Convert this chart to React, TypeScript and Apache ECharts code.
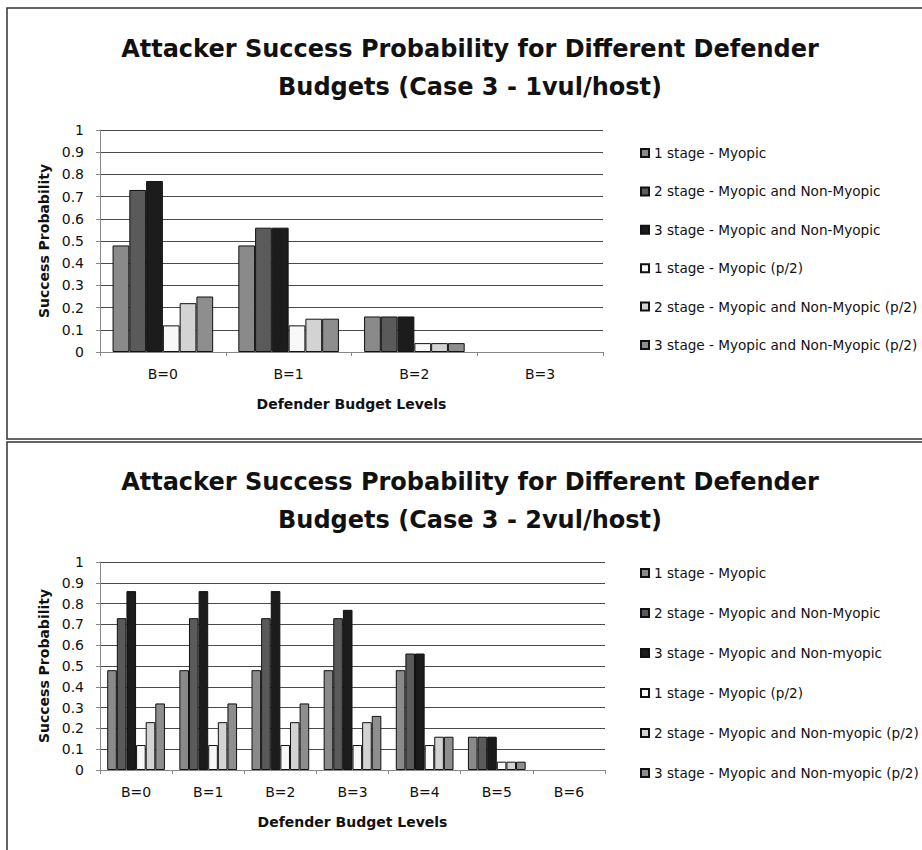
import React, { useEffect, useRef } from "react";
import * as echarts from "echarts";

const categoriesTop = ["B=0", "B=1", "B=2", "B=3"];
const categoriesBottom = ["B=0", "B=1", "B=2", "B=3", "B=4", "B=5", "B=6"];

const namesTop = [
  "1 stage - Myopic",
  "2 stage - Myopic and Non-Myopic",
  "3 stage - Myopic and Non-Myopic",
  "1 stage - Myopic (p/2)",
  "2 stage - Myopic and Non-Myopic (p/2)",
  "3 stage - Myopic and Non-Myopic (p/2)",
];
const namesBottom = [
  "1 stage - Myopic",
  "2 stage - Myopic and Non-Myopic",
  "3 stage - Myopic and Non-myopic",
  "1 stage - Myopic (p/2)",
  "2 stage - Myopic and Non-myopic (p/2)",
  "3 stage - Myopic and Non-myopic (p/2)",
];

// Top chart (Case 3 - 1vul/host)
const top1 = [0.48, 0.48, 0.16, 0];
const top2 = [0.73, 0.56, 0.16, 0];
const top3 = [0.77, 0.56, 0.16, 0];
const top4 = [0.12, 0.12, 0.04, 0];
const top5 = [0.22, 0.15, 0.04, 0];
const top6 = [0.25, 0.15, 0.04, 0];

// Bottom chart (Case 3 - 2vul/host)
const bot1 = [0.48, 0.48, 0.48, 0.48, 0.48, 0.16, 0];
const bot2 = [0.73, 0.73, 0.73, 0.73, 0.56, 0.16, 0];
const bot3 = [0.86, 0.86, 0.86, 0.77, 0.56, 0.16, 0];
const bot4 = [0.12, 0.12, 0.12, 0.12, 0.12, 0.04, 0];
const bot5 = [0.23, 0.23, 0.23, 0.23, 0.16, 0.04, 0];
const bot6 = [0.32, 0.32, 0.32, 0.26, 0.16, 0.04, 0];

const titleTop = ["Attacker Success Probability for Different Defender", "Budgets (Case 3 - 1vul/host)"];
const titleBottom = ["Attacker Success Probability for Different Defender", "Budgets (Case 3 - 2vul/host)"];
const yName = "Success Probability";
const xName = "Defender Budget Levels";

const colors = ["#8a8a8a", "#5a5a5a", "#1c1c1c", "#f8f8f8", "#d3d3d3", "#8e8e8e"];
const FONT = "DejaVu Sans";

export default function App() {
  const ref = useRef<HTMLDivElement>(null);
  useEffect(() => {
    document.body.style.margin = "0";
    const chart = echarts.init(ref.current!, null, { renderer: "svg" });
    const topData = [top1, top2, top3, top4, top5, top6];
    const botData = [bot1, bot2, bot3, bot4, bot5, bot6];

    const mkX = (cats: string[], gridIndex: number) => ({
      type: "category",
      gridIndex,
      data: cats,
      axisLine: { lineStyle: { color: "#888", width: 1 } },
      axisTick: { show: true, length: 4, lineStyle: { color: "#888" } },
      axisLabel: { color: "#111", fontFamily: FONT, fontSize: 14, margin: 15 },
      name: xName,
      nameLocation: "middle",
      nameGap: 45,
      nameTextStyle: { color: "#111", fontFamily: FONT, fontSize: 14, fontWeight: "bold" },
    });
    const mkY = (gridIndex: number) => ({
      type: "value",
      gridIndex,
      min: 0,
      max: 1,
      interval: 0.1,
      axisLine: { show: true, lineStyle: { color: "#888", width: 1 } },
      axisTick: { show: true, length: 4, lineStyle: { color: "#888" } },
      axisLabel: { color: "#111", fontFamily: FONT, fontSize: 14, margin: 16 },
      splitLine: { show: true, lineStyle: { color: "#4a4a4a", width: 1 } },
      name: yName,
      nameLocation: "middle",
      nameGap: 48,
      nameTextStyle: { color: "#111", fontFamily: FONT, fontSize: 14, fontWeight: "bold" },
    });

    const mkSeries = (names: string[], data: number[][], idx: number) =>
      names.map((n, i) => ({
        type: "bar",
        name: n,
        xAxisIndex: idx,
        yAxisIndex: idx,
        data: data[i].map((v) => (v === 0 ? { value: v, itemStyle: { borderWidth: 0 } } : v)),
        barGap: "0%",
        barCategoryGap: "20%",
        itemStyle: { color: colors[i], borderColor: "#111", borderWidth: 1 },
      }));

    const mkLegend = (names: string[], top: number, gap: number) => ({
      orient: "vertical",
      left: 635,
      top,
      data: names,
      icon: "rect",
      itemWidth: 8,
      itemHeight: 8,
      itemGap: gap,
      selectedMode: false,
      textStyle: { color: "#111", fontFamily: FONT, fontSize: 13.6, lineHeight: 16 },
    });

    const titleText = (lines: string[], y0: number, dy: number) =>
      lines.map((t, i) => ({
        type: "text",
        x: 470,
        y: y0 + i * dy,
        style: {
          text: t,
          fill: "#111",
          font: `bold 24px "${FONT}"`,
          textAlign: "center",
          textVerticalAlign: "middle",
        },
      }));

    chart.setOption({
      animation: false,
      backgroundColor: "#fff",
      grid: [
        { left: 100, top: 130, width: 503, height: 222 },
        { left: 100, top: 562, width: 505, height: 208 },
      ],
      xAxis: [mkX(categoriesTop, 0), mkX(categoriesBottom, 1)],
      yAxis: [mkY(0), mkY(1)],
      legend: [mkLegend(namesTop, 140, 22.4), mkLegend(namesBottom, 560, 24)],
      series: [...mkSeries(namesTop, topData, 0), ...mkSeries(namesBottom, botData, 1)],
      graphic: [
        {
          type: "rect",
          shape: { x: 7, y: 8, width: 922, height: 431 },
          style: { fill: "none", stroke: "#333", lineWidth: 1.5 },
          z: -1,
        },
        {
          type: "rect",
          shape: { x: 7, y: 442, width: 922, height: 430 },
          style: { fill: "none", stroke: "#333", lineWidth: 1.5 },
          z: -1,
        },
        ...titleText(titleTop, 49, 38),
        ...titleText(titleBottom, 482, 38),
      ],
    });
    return () => chart.dispose();
  }, []);
  return <div ref={ref} style={{ width: 922, height: 850 }} />;
}
